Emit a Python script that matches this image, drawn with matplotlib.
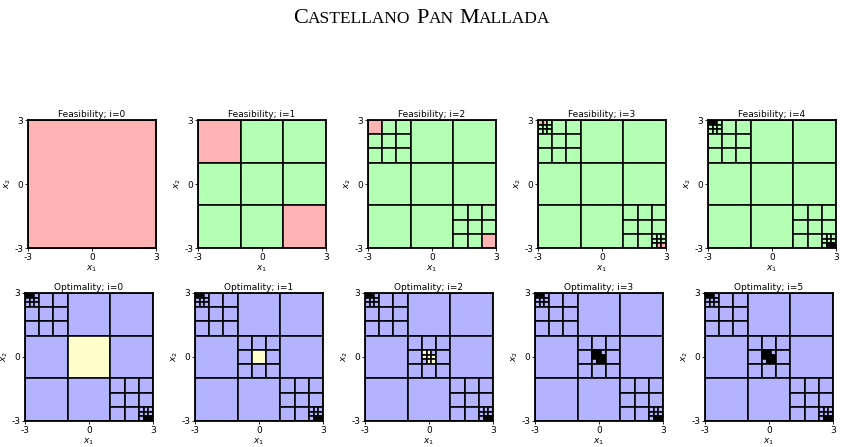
import matplotlib
matplotlib.use("Agg")
import matplotlib.pyplot as plt
from matplotlib.patches import Rectangle
from matplotlib.collections import PatchCollection

# ---- data: boxes encoded by keypad digits (7 8 9 / 4 5 6 / 1 2 3), one digit per refinement level
domain = (-3.0, 3.0)
tick_values = [-3, 0, 3]
tick_labels = ["-3", "0", "3"]

feas_titles = ["Feasibility; i=0", "Feasibility; i=1", "Feasibility; i=2",
               "Feasibility; i=3", "Feasibility; i=4"]
feas_splits = [
    [],
    [""],
    ["", "7", "3"],
    ["", "7", "3", "77", "33"],
    ["", "7", "3", "77", "33", "777", "778", "332", "333"],
]
feas_infeasible = [
    [""],
    ["7", "3"],
    ["77", "33"],
    ["777", "778", "332", "333"],
    [],
]

opt_titles = ["Optimality; i=0", "Optimality; i=1", "Optimality; i=2",
              "Optimality; i=3", "Optimality; i=5"]
opt_extra_splits = [
    [],
    ["5"],
    ["5", "55"],
    ["5", "55", "552", "553", "554", "555", "556", "557", "558"],
    ["5", "55", "552", "553", "554", "555", "556", "557", "558"],
]
opt_candidates = [
    ["5"],
    ["55"],
    ["552", "553", "554", "555", "556", "557", "558"],
    [],
    [],
]

RED = "#ffb3b3"
GREEN = "#b3ffb3"
BLUE = "#b3b3ff"
YELLOW = "#ffffcc"

KEY = {"7": (0, 2), "8": (1, 2), "9": (2, 2),
       "4": (0, 1), "5": (1, 1), "6": (2, 1),
       "1": (0, 0), "2": (1, 0), "3": (2, 0)}


def box_of(path):
    x0, y0 = domain[0], domain[0]
    w = domain[1] - domain[0]
    for d in path:
        w /= 3.0
        c, r = KEY[d]
        x0 += c * w
        y0 += r * w
    return x0, y0, w


def leaves(splits, path=""):
    if path in splits:
        out = []
        for d in "789456123":
            out += leaves(splits, path + d)
        return out
    return [path]


def is_under(path, marked):
    return any(path.startswith(m) for m in marked)


def draw_panel(ax, splits, colour_fn, title):
    patches, cols = [], []
    for p in leaves(set(splits)):
        x0, y0, w = box_of(p)
        patches.append(Rectangle((x0, y0), w, w))
        cols.append(colour_fn(p))
    pc = PatchCollection(patches, facecolors=cols, edgecolors="black", linewidths=1.15)
    ax.add_collection(pc)
    ax.set_xlim(*domain)
    ax.set_ylim(*domain)
    ax.set_aspect("equal")
    ax.set_xticks(tick_values)
    ax.set_xticklabels(tick_labels)
    ax.set_yticks(tick_values)
    ax.set_yticklabels(tick_labels)
    ax.tick_params(labelsize=6.5, length=2, pad=1.5, width=0.6)
    ax.set_xlabel("$x_1$", fontsize=6.5, labelpad=1)
    ax.set_ylabel("$x_2$", fontsize=6.5, labelpad=1)
    ax.set_title(title, fontsize=6.5, pad=2)
    for s in ax.spines.values():
        s.set_linewidth(1.3)


W, H = 844, 447
fig = plt.figure(figsize=(W / 100, H / 100), dpi=100)

row1_left = [28, 198, 368, 538, 708]
row2_left = [25, 195, 365, 535, 705]
size = 128

for k in range(5):
    ax = fig.add_axes([row1_left[k] / W, (H - 248) / H, size / W, size / H])
    inf = feas_infeasible[k]
    draw_panel(ax, feas_splits[k],
               lambda p, inf=inf: RED if is_under(p, inf) else GREEN,
               feas_titles[k])

base_splits = feas_splits[-1]
for k in range(5):
    ax = fig.add_axes([row2_left[k] / W, (H - 421) / H, size / W, size / H])
    cand = opt_candidates[k]
    draw_panel(ax, base_splits + opt_extra_splits[k],
               lambda p, cand=cand: YELLOW if is_under(p, cand) else BLUE,
               opt_titles[k])

# ---- small-caps title
title_words = ["Castellano", "Pan", "Mallada"]
big, small = 16.0, 12.5
family = "Liberation Serif"
renderer = fig.canvas.get_renderer()
pieces = []
for wi, word in enumerate(title_words):
    pieces.append((word[0].upper(), big))
    pieces.append((word[1:].upper(), small))
    if wi < len(title_words) - 1:
        pieces.append((" ", big))

texts = []
widths = []
for s, fs in pieces:
    t = fig.text(0, 0, s if s != " " else "\u00a0", fontsize=fs, family=family,
                 transform=None, va="baseline", ha="left")
    bb = t.get_window_extent(renderer)
    texts.append(t)
    widths.append(bb.width)
total = sum(widths)
x = W / 2 - total / 2
y = H - 23
for t, w in zip(texts, widths):
    t.set_position((x, y))
    x += w

fig.savefig("out.png", dpi=100)
